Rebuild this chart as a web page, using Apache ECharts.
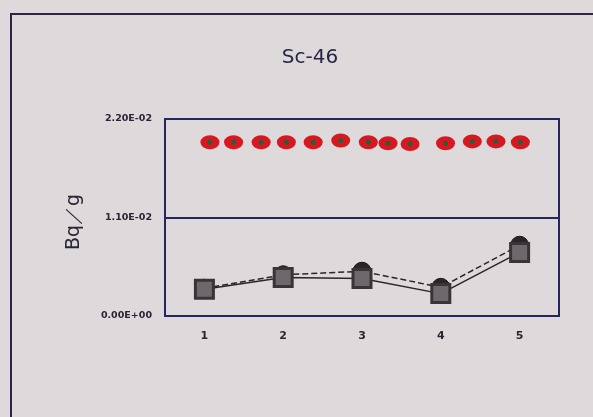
<!DOCTYPE html>
<html>
<head>
<meta charset="utf-8">
<script src="https://cdn.jsdelivr.net/npm/echarts@6/dist/echarts.min.js"></script>
<style>
html,body{margin:0;padding:0;background:#dedadc;}
#c{width:593px;height:417px;}
</style>
</head>
<body>
<div id="c"></div>
<script>
var categories = ['1', '2', '3', '4', '5'];
var yTicks = [0, 0.011, 0.022];
var squareValues = [0.0030, 0.0043, 0.0042, 0.0025, 0.0071];
var circleValues = [0.0031, 0.0046, 0.0050, 0.0032, 0.0079];
var redDotX = [1.07, 1.37, 1.72, 2.04, 2.38, 2.73, 3.08, 3.33, 3.61, 4.06, 4.40, 4.70, 5.01];
var redDotY = [0.0194, 0.0194, 0.0194, 0.0194, 0.0194, 0.0196, 0.0194, 0.0193, 0.0192, 0.0193, 0.0195, 0.0195, 0.0194];

var redPoints = redDotX.map(function (x, i) { return [x, redDotY[i]]; });

function fmt(v) {
  if (v === 0) return '0.00E+00';
  return v.toExponential(2).toUpperCase().replace('E-', 'E-0');
}

var chart = echarts.init(document.getElementById('c'));
chart.setOption({
  backgroundColor: '#dedadc',
  animation: false,
  title: {
    text: 'Sc-46', left: 305, top: 43, textAlign: 'center',
    textStyle: { fontFamily: 'DejaVu Sans', fontSize: 20, fontWeight: 'normal', color: '#2a2545' }
  },
  graphic: [
    { type: 'rect', shape: { x: 11, y: 14, width: 700, height: 500 },
      style: { fill: 'none', stroke: '#2c2640', lineWidth: 2 } },
    { type: 'text', x: 74, y: 222, rotation: Math.PI / 2,
      style: { text: 'Bq／g', fontFamily: 'DejaVu Sans', fontSize: 19, fill: '#2a2535',
               textAlign: 'center', textVerticalAlign: 'middle' } }
  ],
  grid: { left: 165, top: 119, width: 394, height: 197, show: true, borderColor: '#25255f', borderWidth: 2, backgroundColor: 'transparent' },
  xAxis: [
    { type: 'category', data: categories, boundaryGap: true,
      axisLine: { lineStyle: { color: '#25255f', width: 2 } },
      axisTick: { inside: true, length: 3, lineStyle: { color: '#25255f' } },
      axisLabel: { margin: 15, fontFamily: 'DejaVu Sans', fontWeight: 'bold', fontSize: 11, color: '#2a2535' } },
    { type: 'value', min: 0.5, max: 5.5, show: false }
  ],
  yAxis: {
    type: 'value', min: 0, max: 0.022, interval: 0.011,
    axisLine: { show: true, lineStyle: { color: '#25255f', width: 2 } },
    axisTick: { show: false },
    splitLine: { show: true, lineStyle: { color: '#25255f', width: 2 } },
    axisLabel: { margin: 13, fontFamily: 'DejaVu Sans', fontWeight: 'bold', fontSize: 9.5, color: '#2a2535',
                 formatter: function (v) { return fmt(v); } }
  },
  series: [
    { type: 'line', data: circleValues, symbol: 'circle', symbolSize: 18,
      itemStyle: { color: '#2a2628', borderColor: '#1a1618', borderWidth: 1 },
      lineStyle: { color: '#2a2628', width: 1.5, type: [6, 3] }, z: 2 },
    { type: 'line', data: squareValues, symbol: 'rect', symbolSize: 18,
      itemStyle: { color: '#6e686c', borderColor: '#3a3438', borderWidth: 3 },
      lineStyle: { color: '#2a2628', width: 1.5 }, z: 3 },
    { type: 'scatter', xAxisIndex: 1, data: redPoints, symbol: 'circle', symbolSize: [19, 14],
      itemStyle: { color: '#d81820', opacity: 1 }, z: 4 },
    { type: 'scatter', xAxisIndex: 1, data: redPoints, symbol: 'circle', symbolSize: 5,
      itemStyle: { color: '#2f5a3a', opacity: 1 }, z: 5 }
  ]
});
</script>
</body>
</html>
